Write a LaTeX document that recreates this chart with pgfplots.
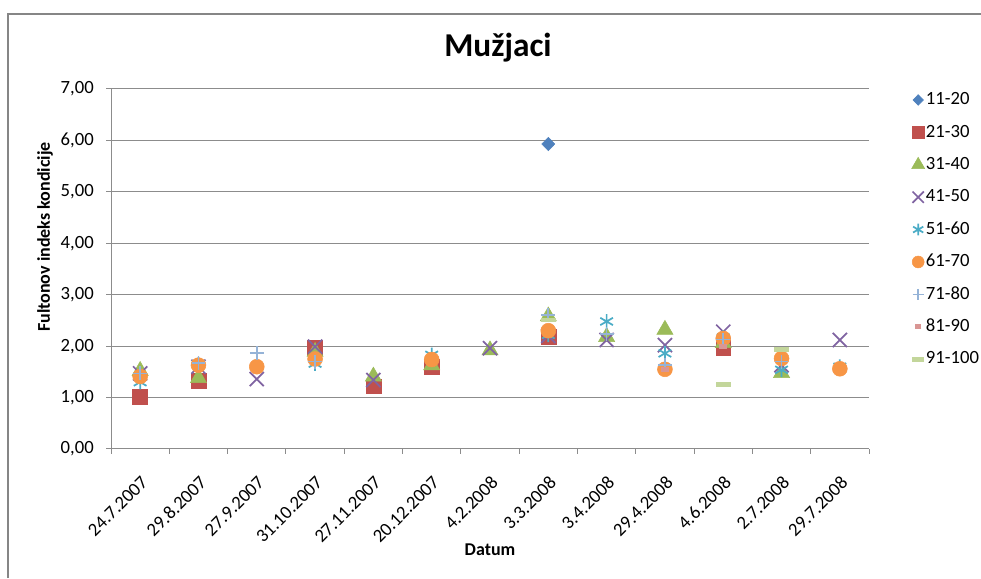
\documentclass[border=0pt]{standalone}
\usepackage{pgfplots}
\pgfplotsset{compat=1.18}
\usepackage{fontspec}
\setmainfont{Carlito}
\definecolor{cA}{HTML}{4F81BD}
\definecolor{cB}{HTML}{C0504D}
\definecolor{cC}{HTML}{9BBB59}
\definecolor{cD}{HTML}{8064A2}
\definecolor{cE}{HTML}{4BACC6}
\definecolor{cF}{HTML}{F79646}
\definecolor{cG}{HTML}{95B3D7}
\definecolor{cH}{HTML}{D99694}
\definecolor{cI}{HTML}{C3D69B}
\definecolor{gridg}{HTML}{8C8C8C}
\definecolor{frameg}{HTML}{868686}
\begin{document}
\begin{tikzpicture}[x=0.75pt,y=0.75pt]
\path[use as bounding box] (0,0) rectangle (981,578);
\draw[frameg, line width=1.3pt] (8,0) -- (8,564) -- (981,564);
\node[anchor=base, font=\fontsize{25}{30}\selectfont\bfseries] at (498,521.3) {Mužjaci};
\node[rotate=90, font=\fontsize{13.5}{16}\selectfont\bfseries] at (45,341) {Fultonov indeks kondicije};
\node[anchor=base, font=\fontsize{13.5}{16}\selectfont\bfseries] at (490,22) {Datum};
\begin{axis}[
  at={(83.25pt,96.75pt)}, anchor=south west,
  scale only axis, width=568.5pt, height=270pt,
  xmin=-0.5, xmax=12.5, ymin=0, ymax=7,
  axis lines*=left, axis line style={draw=gridg, line width=0.75pt, -},
  tick align=outside,
  xtick={0,...,12},
  xticklabels={24.7.2007,29.8.2007,27.9.2007,31.10.2007,27.11.2007,20.12.2007,4.2.2008,3.3.2008,3.4.2008,29.4.2008,4.6.2008,2.7.2008,29.7.2008},
  major x tick style={draw=none},
  minor xtick={-0.5,0.5,...,12.5},
  minor tick length=3.75pt,
  minor x tick style={draw=gridg, line width=0.75pt},
  ytick={0,1,...,7},
  major tick length=3.75pt,
  y tick style={draw=gridg, line width=0.75pt},
  ymajorgrids, major grid style={draw=gridg, line width=0.75pt},
  yticklabel style={/pgf/number format/fixed, /pgf/number format/fixed zerofill, /pgf/number format/precision=2, /pgf/number format/use comma, /pgf/number format/assume math mode=true},
  yticklabel style={inner sep=0pt, xshift=-9pt, font=\fontsize{14}{16}\selectfont},
  xticklabel style={rotate=45, anchor=north east, inner sep=0pt, yshift=-11pt, xshift=-11pt, font=\fontsize{14}{16}\selectfont},
  clip=false,
  legend cell align=left,
  legend style={at={(1.056,0.998)}, anchor=north west, draw=none, fill=none, inner sep=0pt,
    row sep=9.3pt, font=\fontsize{14}{16}\selectfont,
    nodes={inner sep=1pt, text height=10pt, text depth=3pt}},
  legend image code/.code={\draw[mark repeat=2,mark phase=2,#1] plot coordinates {(0cm,0cm) (0.15cm,0cm) (0.3cm,0cm)};},
  legend image post style={/tikz/every mark/.append style={scale=0.8}},
]
\addplot[only marks, mark=diamond*, mark size=5pt, color=cA, mark options={xscale=1.3}] coordinates {(7,5.93)};
\addlegendentry{11-20}
\addplot[only marks, mark=square*, mark size=5.6pt, color=cB] coordinates {
(0,1.02)(1,1.32)(3,1.96)(4,1.22)(5,1.60)(7,2.19)(10,1.96)};
\addlegendentry{21-30}
\addplot[only marks, mark=triangle*, mark size=7pt, color=cC] coordinates {
(0,1.52)(1,1.38)(3,1.89)(4,1.41)(5,1.63)(6,1.92)(7,2.58)(8,2.18)(9,2.32)(10,2.06)(11,1.48)};
\addlegendentry{31-40}
\addplot[only marks, mark=x, mark size=7.5pt, color=cD, line width=1.3pt] coordinates {
(0,1.47)(1,1.60)(2,1.36)(3,1.99)(4,1.34)(6,1.96)(7,2.20)(8,2.12)(9,2.02)(10,2.28)(11,1.63)(12,2.12)};
\addlegendentry{41-50}
\addplot[only marks, mark=asterisk, mark size=5.5pt, color=cE, line width=1.3pt] coordinates {
(0,1.30)(1,1.65)(3,1.66)(5,1.83)(7,2.22)(8,2.48)(9,1.86)(10,2.17)(11,1.54)(12,1.60)};
\addlegendentry{51-60}
\addplot[only marks, mark=*, mark size=5.6pt, color=cF] coordinates {
(0,1.41)(1,1.63)(2,1.60)(3,1.75)(5,1.74)(7,2.30)(9,1.55)(10,2.15)(11,1.76)(12,1.56)};
\addlegendentry{61-70}
\addplot[only marks, mark=+, mark size=5.2pt, color=cG, line width=1.3pt] coordinates {
(0,1.47)(1,1.67)(2,1.87)(3,1.70)(7,2.61)(8,2.24)(9,1.63)(10,2.13)(11,1.70)};
\addlegendentry{71-80}
\addplot[only marks, mark=-, mark size=3pt, color=cH, line width=3.5pt] coordinates {
(9,1.54)(10,1.99)};
\addlegendentry{81-90}
\addplot[only marks, mark=-, mark size=5.6pt, color=cI, line width=3.5pt] coordinates {
(7,2.51)(10,1.26)(11,1.94)};
\addlegendentry{91-100}
\end{axis}
\end{tikzpicture}
\end{document}
